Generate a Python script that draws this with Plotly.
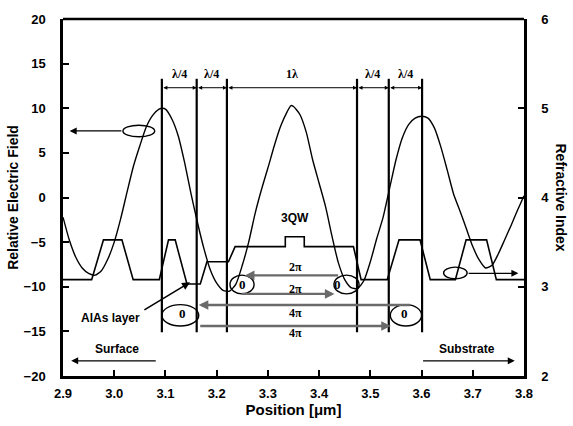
import plotly.graph_objects as go

# Standing-wave electric field across the cavity (relative units)
position_um = [
    2.900, 2.9125, 2.925, 2.9375, 2.950, 2.9625, 2.975, 2.9875, 3.000, 3.0125,
    3.025, 3.0375, 3.050, 3.0625, 3.075, 3.0875, 3.095, 3.100, 3.1125, 3.125,
    3.1375, 3.150, 3.1625, 3.175, 3.1875, 3.200, 3.2125, 3.225, 3.2375, 3.250,
    3.2625, 3.275, 3.2875, 3.300, 3.3125, 3.325, 3.3375, 3.345, 3.350, 3.3625,
    3.375, 3.3875, 3.400, 3.4125, 3.425, 3.4375, 3.450, 3.4625, 3.475, 3.4875,
    3.500, 3.5125, 3.525, 3.5375, 3.550, 3.5625, 3.575, 3.5875, 3.600, 3.6125,
    3.625, 3.6375, 3.650, 3.6625, 3.675, 3.6875, 3.700, 3.7125, 3.725, 3.7375,
    3.750, 3.7625, 3.775, 3.7875, 3.800,
]
electric_field = [
    -2.2, -4.8, -6.7, -7.9, -8.5, -8.7, -8.2, -6.9, -5.0, -2.4,
    0.6, 3.5, 5.8, 7.9, 9.2, 9.9, 10.0, 9.9, 8.8, 6.9,
    3.9, 0.4, -2.8, -5.7, -8.1, -9.6, -10.4, -10.5, -9.7, -7.6,
    -5.0, -1.8, 0.9, 3.3, 5.8, 8.0, 9.6, 10.3, 10.2, 9.3,
    7.3, 4.2, 1.6, -1.0, -4.3, -7.3, -9.2, -10.1, -10.2, -9.3,
    -7.2, -4.6, -2.2, 1.0, 4.2, 6.7, 8.2, 8.9, 9.1, 8.9,
    7.8, 5.7, 3.1, 0.4, -1.5, -3.5, -5.5, -7.0, -7.9, -7.6,
    -6.3, -4.7, -3.1, -1.4, 0.2,
]

# Graded refractive-index profile of the layer stack
index_position_um = [
    2.900, 2.956, 2.979, 3.015, 3.037, 3.088, 3.106, 3.119, 3.142, 3.168,
    3.181, 3.223, 3.236, 3.334, 3.334, 3.371, 3.371, 3.467, 3.482, 3.533,
    3.556, 3.597, 3.617, 3.666, 3.687, 3.727, 3.746, 3.800,
]
refractive_index = [
    3.08, 3.08, 3.525, 3.525, 3.08, 3.08, 3.525, 3.525, 3.03, 3.03,
    3.28, 3.28, 3.45, 3.45, 3.56, 3.56, 3.45, 3.45, 3.08, 3.08,
    3.525, 3.525, 3.08, 3.08, 3.525, 3.525, 3.08, 3.08,
]

# Layer boundaries marked by vertical lines and the spans between them
boundaries_um = [3.093, 3.161, 3.220, 3.474, 3.536, 3.601]
span_labels = ["λ/4", "λ/4", "1λ", "λ/4", "λ/4"]

x_ticks = [2.9, 3.0, 3.1, 3.2, 3.3, 3.4, 3.5, 3.6, 3.7, 3.8]
field_ticks = [-20, -15, -10, -5, 0, 5, 10, 15, 20]
index_ticks = [2, 3, 4, 5, 6]

FONT = "Liberation Sans, Arial, sans-serif"
SERIF = "Liberation Serif, Times New Roman, serif"

fig = go.Figure()

fig.add_trace(go.Scatter(
    x=position_um, y=electric_field, mode="lines",
    line=dict(color="black", width=1.4, shape="spline", smoothing=0.6),
    showlegend=False, hoverinfo="skip",
))

fig.add_trace(go.Scatter(
    x=index_position_um, y=refractive_index, mode="lines", yaxis="y2",
    line=dict(color="black", width=1.6),
    showlegend=False, hoverinfo="skip",
))

# vertical boundary lines
vx, vy = [], []
for b in boundaries_um:
    vx += [b, b, None]
    vy += [-15.1, 13.3, None]
fig.add_trace(go.Scatter(
    x=vx, y=vy, mode="lines", line=dict(color="black", width=2.2),
    showlegend=False, hoverinfo="skip",
))

annotations = []

# dimension arrows with span labels
for left, right, lab in zip(boundaries_um[:-1], boundaries_um[1:], span_labels):
    annotations.append(dict(
        x=right, y=12.3, ax=left, ay=12.3, xref="x", yref="y", axref="x", ayref="y",
        text="", showarrow=True, arrowside="end+start", arrowhead=2, arrowsize=0.8,
        arrowwidth=1, arrowcolor="black",
    ))
    annotations.append(dict(
        x=(left + right) / 2, y=13.8, xref="x", yref="y", text=lab, showarrow=False,
        font=dict(family=SERIF, size=12, color="black", weight="bold"),
    ))


def arrow(tip, tail, color="black", width=1.3, head=2, size=1.0):
    annotations.append(dict(
        x=tip[0], y=tip[1], ax=tail[0], ay=tail[1], xref="x", yref="y",
        axref="x", ayref="y", text="", showarrow=True, arrowhead=head,
        arrowsize=size, arrowwidth=width, arrowcolor=color,
    ))


def label(x, y, text, size=12, family=FONT, bold=True):
    annotations.append(dict(
        x=x, y=y, xref="x", yref="y", text=text, showarrow=False,
        font=dict(family=family, size=size, color="#000000",
                  weight="bold" if bold else "normal"),
    ))


# axis indicators
arrow((2.913, 7.46), (3.017, 7.46), width=1.4)
arrow((3.789, -8.5), (3.689, -8.5), width=1.4)

# surface / substrate
arrow((2.916, -18.3), (3.084, -18.3), width=1.4)
arrow((3.782, -18.3), (3.600, -18.3), width=1.4)
label(3.005, -17.0, "Surface", 12)
label(3.689, -17.0, "Substrate", 12)

# AlAs layer pointer
arrow((3.148, -9.5), (3.056, -12.7), width=1.6)
label(2.992, -13.5, "AlAs layer", 12)

label(3.353, -2.3, "3QW", 12)

# round-trip phase arrows
GREY = "#6a6a6a"
arrow((3.255, -8.73), (3.440, -8.73), color=GREY, width=2.4, size=0.8)
arrow((3.430, -10.8), (3.246, -10.8), color=GREY, width=2.4, size=0.8)
arrow((3.165, -12.05), (3.580, -12.05), color=GREY, width=2.4, size=0.8)
arrow((3.540, -14.4), (3.165, -14.4), color=GREY, width=2.4, size=0.8)

label(3.353, -7.8, "2π", 12, SERIF)
label(3.353, -10.2, "2π", 12, SERIF)
label(3.353, -12.9, "4π", 12, SERIF)
label(3.353, -15.2, "4π", 12, SERIF)
label(3.250, -9.7, "0", 13, SERIF)
label(3.436, -9.7, "0", 13, SERIF)
label(3.133, -13.0, "0", 13, SERIF)
label(3.566, -13.0, "0", 13, SERIF)

# right axis title reads top to bottom
annotations.append(dict(
    x=1.0, y=0.5, xref="paper", yref="paper", xanchor="center", yanchor="middle",
    xshift=37, text="Refractive Index", textangle=90, showarrow=False,
    font=dict(family=FONT, size=14, color="black", weight="bold"),
))

NOFILL = "rgba(0,0,0,0)"
shapes = [
    # loops around the zero-phase reflection points
    dict(type="circle", xref="x", yref="y", x0=3.226, x1=3.273, y0=-10.8, y1=-8.7,
         line=dict(color="black", width=1.4), fillcolor=NOFILL),
    dict(type="circle", xref="x", yref="y", x0=3.429, x1=3.478, y0=-10.8, y1=-8.7,
         line=dict(color="black", width=1.4), fillcolor=NOFILL),
    dict(type="circle", xref="x", yref="y", x0=3.093, x1=3.165, y0=-14.4, y1=-12.0,
         line=dict(color="black", width=1.4), fillcolor=NOFILL),
    dict(type="circle", xref="x", yref="y", x0=3.539, x1=3.600, y0=-14.4, y1=-12.0,
         line=dict(color="black", width=1.4), fillcolor=NOFILL),
    # loops on the axis indicators
    dict(type="circle", xref="x", yref="y", x0=3.017, x1=3.079, y0=6.8, y1=8.1,
         line=dict(color="black", width=1.4), fillcolor=NOFILL),
    dict(type="circle", xref="x", yref="y", x0=3.643, x1=3.689, y0=-9.1, y1=-7.8,
         line=dict(color="black", width=1.4), fillcolor=NOFILL),
    # top frame edge
    dict(type="line", xref="paper", yref="paper", x0=0, x1=1, y0=1, y1=1,
         line=dict(color="black", width=2.5)),
]

fig.update_layout(
    width=573, height=426,
    margin=dict(l=63, r=49, t=14, b=50),
    paper_bgcolor="white", plot_bgcolor="white",
    font=dict(family=FONT, color="black"),
    annotations=annotations, shapes=shapes,
    xaxis=dict(
        range=[2.9, 3.8], tickvals=x_ticks, tickformat=".1f",
        ticks="inside", ticklen=6, tickwidth=2, tickcolor="black",
        showline=True, linewidth=2.5, linecolor="black", showgrid=False, zeroline=False,
        tickfont=dict(size=13, family=FONT, weight="bold"), ticklabelstandoff=4,
        title=dict(text="Position [μm]", font=dict(size=15, family=FONT, weight="bold"),
                   standoff=2),
    ),
    yaxis=dict(
        range=[-20, 20], tickvals=field_ticks,
        ticks="inside", ticklen=6, tickwidth=2, tickcolor="black",
        showline=True, linewidth=2.5, linecolor="black", showgrid=False, zeroline=False,
        tickfont=dict(size=13, family=FONT, weight="bold"), ticklabelstandoff=12,
        title=dict(text="Relative Electric Field",
                   font=dict(size=14, family=FONT, weight="bold"), standoff=2),
    ),
    yaxis2=dict(
        range=[2, 6], tickvals=index_ticks, overlaying="y", side="right",
        ticks="inside", ticklen=6, tickwidth=2, tickcolor="black",
        showline=True, linewidth=2.5, linecolor="black", showgrid=False, zeroline=False,
        tickfont=dict(size=13, family=FONT, weight="bold"), ticklabelstandoff=12,
    ),
)

fig.write_html("out.html")
